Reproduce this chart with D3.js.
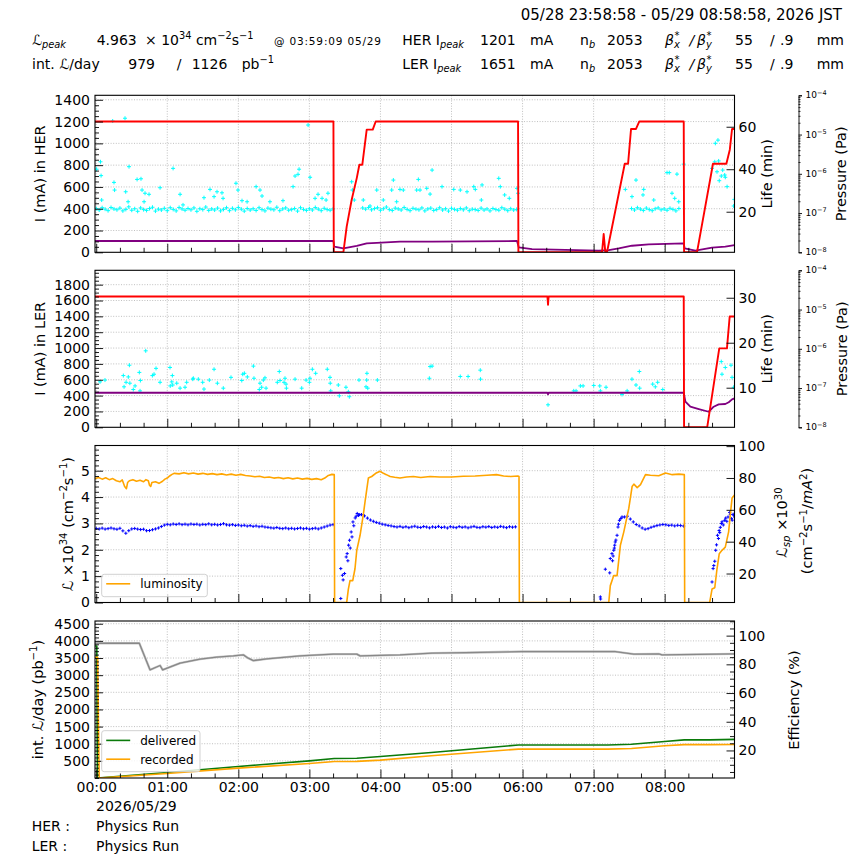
<!DOCTYPE html>
<html><head><meta charset="utf-8"><title>SuperKEKB status</title>
<script src="https://cdn.jsdelivr.net/npm/d3@7/dist/d3.min.js"></script>
<style>
html,body{margin:0;padding:0;background:#fff;}
svg text{font-family:"DejaVu Sans","Liberation Sans",sans-serif;fill:#000;}
</style></head><body>
<svg id="chart" width="864" height="864" viewBox="0 0 864 864"></svg>
<script>
// ---------------- DATA (time in minutes after 2026/05/29 00:00 JST) ----------------
const hourTicks = ["00:00","01:00","02:00","03:00","04:00","05:00","06:00","07:00","08:00"];
const herTicks = [0,200,400,600,800,1000,1200,1400];
const lerTicks = [0,200,400,600,800,1000,1200,1400,1600,1800];
const lumTicks = [0,1,2,3,4,5];
const intTicks = [500,1000,1500,2000,2500,3000,3500,4000,4500];
const herLifeTicks = [20,40,60];
const lerLifeTicks = [10,20,30];
const lspTicks = [20,40,60,80,100];
const effTicks = [20,40,60,80,100];
const presTicks = [1e-8,1e-7,1e-6,1e-5,1e-4];

const herCurrent = [[-1.1,1201],[200.3,1201],[200.6,0],[208.7,0],[211.5,236],[215.7,482],[220,681],[222.2,804],[224.7,804],[228.4,1126],[233.5,1126],[236,1201],[356.2,1201],[356.5,0],[427.1,0],[428.5,168],[429.9,0],[431.3,0],[446.3,813],[449.1,813],[451.6,1132],[455.8,1132],[458.6,1201],[496.1,1201],[496.4,0],[507.3,0],[520.8,813],[532.1,813],[535,942],[536.9,1132],[539,1132]];
const herPressure = [[-1.1,1.94e-8],[200.3,1.94e-8],[201,1.39e-8],[208.7,1.26e-8],[220,1.45e-8],[228.4,1.69e-8],[236.9,1.74e-8],[256.5,1.86e-8],[283.6,1.86e-8],[355.3,1.94e-8],[356.8,1.34e-8],[368,1.21e-8],[424.3,1.10e-8],[432.8,1.14e-8],[441.2,1.26e-8],[452.4,1.47e-8],[466.5,1.60e-8],[496.1,1.69e-8],[496.9,1.26e-8],[505.9,1.10e-8],[520,1.31e-8],[531.2,1.39e-8],[539,1.53e-8]];
// HER lifetime: dense band segments (start minute, 2.5 min spacing) + scattered points
const herLifeBandStart = [0, 225, 452];
const herLifeBandA = [21.5,20.8,21.9,21.2,20.5,22.0,21.3,20.9,21.7,20.4,21.1,22.3,20.7,21.4,20.2,21.8,21.0,20.6,21.5,22.1,20.3,21.2,20.8,21.6,20.5,21.9,21.1,20.4,22.0,21.3,20.7,21.5,20.9,21.8,20.2,21.4,21.0,22.2,20.6,21.3,20.8,21.7,20.4,21.1,21.9,20.5,21.6,20.9,22.0,21.2,20.3,21.5,20.8,21.4,20.6,21.9,21.0,20.4,21.7,21.2,20.9,22.1,20.5,21.3,21.8,20.7,21.0,21.5,20.3,21.9,21.1,20.6,21.4,20.8,22.0,21.2,20.5,21.6,21.0,20.7,21.3];
const herLifeBandB = [21.8,21.2,22.0,20.9,21.5,21.9,20.7,21.4,22.2,21.0,20.6,21.7,21.3,20.8,22.0,21.1,20.5,21.6,21.2,20.9,21.8,20.4,21.3,21.7,20.6,21.0,21.9,20.8,21.4,20.3,21.6,21.1,20.7,21.5,20.9,21.8,20.5,21.2,21.0,20.6,21.7,20.8,21.3,20.4,21.5,21.0,20.7,21.9,21.2,20.5,21.4,20.8,21.1];
const herLifeBandC = [21.5,20.8,21.9,21.2,20.6,21.7,21.0,20.5,21.4,21.8,20.9,21.3,20.7,21.6,21.1,20.4,21.5];
const herLifeScatter = [[0.3,40],[3.6,43.5],[4.1,37],[4.6,25.5],[13.9,62.7],[15,33.8],[15.5,30.2],[24.3,64],[24.9,29.4],[26.9,24.7],[27.7,41.2],[34.5,35.2],[37.8,35.5],[38.7,30.2],[40.4,24.7],[41.2,28.7],[44.6,28.2],[53.9,31.3],[64.9,40.4],[70.8,28.2],[73.3,23.2],[91,26.6],[96.1,30.5],[99.5,27.1],[102,29.4],[106.2,28.9],[107.1,26.3],[118,33.4],[119.7,30.2],[123.1,25.2],[127.4,24.7],[135,31.8],[138.3,30.2],[140,27.4],[146.7,24.7],[157.7,25.2],[166.2,31.8],[167.9,36.8],[170.4,37.6],[171.3,40],[178.9,60.8],[180.6,36.2],[184.8,26.3],[187.3,28.2],[190.7,26.3],[194.1,25.5],[195.7,28.7],
[215.7,34.1],[216.3,30.2],[217.9,25.5],[225.5,25.5],[231.2,22.7],[236.9,30.2],[242.4,25.5],[249.5,30.2],[250.9,34.9],[253.7,24.7],[256.5,30.5],[259.3,30.2],[270.6,30.2],[272,35.2],[273.4,30.2],[279.1,31],[281.9,28.3],[283.6,39.6],[292,31.8],[301.9,30.5],[307.4,30.2],[313.1,29.4],[318.8,31.8],[320.1,30.5],[325.2,25.5],[325.8,32.6],[339.9,35.7],[341.2,31.8],[344.9,27.9],[348.8,26.3],[355.3,31],[356.2,28.7],
[446.8,30.5],[452.4,27.1],[455.8,34.9],[461.7,27.9],[462.3,30.5],[470.8,25.5],[482,38.4],[483.9,38.4],[486.2,28.7],[488.5,26.3],[490.4,37.7],[491.9,24.7],[496.1,42.4],
[520,40.4],[522.3,43.5],[522.8,52.2],[524.2,38.8],[525,53.7],[525.6,43.9],[526.1,34.6],[527.8,36.8],[529,39.6],[530.7,37.3],[531.2,36.2],[532.7,31.8],[538.3,22.7],[538.8,25.8]];

const lerCurrent = [[-1.1,1651],[381,1651],[381.5,1546],[382,1651],[496.1,1651],[496.4,0],[515.9,0],[526.1,996],[532.6,996],[534.9,1398],[539,1398]];
const lerPressure = [[-1.1,7.6e-8],[381,7.6e-8],[381.5,6.9e-8],[382,7.6e-8],[496.1,7.6e-8],[497.5,4.49e-8],[501.7,3.35e-8],[508.8,2.92e-8],[517.2,2.49e-8],[521.4,3.35e-8],[525.6,3.85e-8],[531.2,3.92e-8],[534.1,4.34e-8],[536.9,5.16e-8],[539,5.48e-8]];
const lerLife = [[3.2,11.3],[7.4,11.7],[22.9,12.7],[23.5,10.2],[25.2,11.2],[27.1,12.4],[28,15],[28.4,11],[31.3,9.6],[32.8,10.4],[36.4,13.4],[37,9.3],[37.3,11.6],[41.8,18.2],[47.4,12.7],[48.8,13],[50.5,14.3],[53.9,11.2],[62.3,14.5],[62.5,10.4],[63.8,11.3],[64.3,12.7],[64.6,10.6],[68,11],[70.8,9.9],[75,10.1],[76.4,11.2],[81.5,11.9],[82,12.1],[86.2,11.9],[89.9,11.2],[91,9.7],[95.5,11.7],[99.5,14.1],[102.3,11],[107.3,9.9],[113.8,12.3],[122.9,11.6],[123.7,13],[125.1,13.2],[127.6,12.4],[132.7,14.8],[133.2,12.1],[137.7,9.6],[138.3,11],[139.7,10.1],[141.1,11.7],[142.5,12.2],[143.4,9.9],[152.9,11.2],[154.6,13.6],[155.2,11.6],[158.6,11.2],[159.4,12.1],[160.3,10.8],[160.6,9.9],[167.9,11.9],[173.5,9.9],[177.2,11.7],[180,11.2],[180.5,12.1],[182.5,14.1],[185.3,13.2],[195.1,14.1],[197.4,12.3],[197.6,11],[198,9.3],[204.4,10.6],[205.3,8.2],[210.9,10.1],[212.9,9.1],[213.7,8],[221.9,11.7],[227.8,10.2],[228.4,11.7],[228.6,13.2],[229.3,9.9],[237.4,11.7],[281.3,12.1],[281.9,14.7],[283.6,14.8],[307.4,12.5],[314,12.5],[324.3,13.9],[324.5,11.9],[381.5,6.2],[403.2,9.3],[405.2,9.3],[408.8,10.4],[411.1,10.4],[420.1,10.5],[425.2,10.4],[425.7,9.3],[430.5,10.1],[444,8.5],[448.3,9.3],[452.4,11.9],[455.8,10.6],[458.6,13.6],[458.9,9.9],[469.9,10.8],[472.1,10.2],[474.1,11.2],[478.4,9.6],[527.8,15.8],[528.4,13],[531.2,14.5],[536,15],[536.9,12.3],[538.3,10.1]];

const luminosity = [[-1.1,4.70],[2,4.74],[5,4.68],[8,4.73],[11,4.66],[14,4.70],[17,4.62],[20,4.58],[22,4.65],[24,4.40],[25.5,4.32],[26.5,4.55],[28,4.62],[31,4.66],[34,4.60],[37,4.64],[40,4.58],[42,4.66],[44,4.62],[45,4.45],[46,4.40],[47,4.55],[50,4.58],[53,4.52],[56,4.60],[58,4.68],[60,4.72],[62,4.80],[64,4.86],[66,4.90],[70,4.88],[74,4.92],[78,4.88],[82,4.91],[86,4.87],[90,4.90],[94,4.86],[98,4.89],[102,4.85],[106,4.88],[110,4.84],[114,4.87],[118,4.83],[122,4.86],[126,4.82],[130,4.80],[134,4.77],[138,4.79],[142,4.74],[146,4.76],[150,4.72],[154,4.74],[158,4.70],[162,4.73],[166,4.69],[170,4.72],[174,4.68],[178,4.71],[182,4.67],[186,4.70],[190,4.66],[193,4.72],[196,4.82],[199,4.86],[201,4.85],[201.3,0],[211.5,0],[212.9,0.51],[214.3,0.83],[216.6,0.83],[218.5,1.28],[220,1.98],[222.8,2.55],[225.5,3.32],[227,3.83],[229.8,4.72],[232.6,4.78],[236,4.9],[239.7,4.98],[242.5,4.9],[245,4.85],[248.2,4.78],[252,4.75],[256.5,4.72],[262,4.76],[267.8,4.78],[274,4.74],[282,4.78],[290,4.76],[300,4.76],[310,4.79],[320,4.80],[330,4.83],[338,4.85],[344,4.80],[350,4.78],[356,4.80],[357,4.78],[357.3,0],[432.8,0],[434.1,0.64],[437,1.02],[439.8,1.02],[442.6,2.17],[445.5,2.68],[449.7,3.57],[452.5,4.4],[454,4.49],[456.8,4.36],[459.6,4.47],[463.8,4.85],[468,4.83],[475,4.81],[480.7,4.91],[486.4,4.85],[492,4.87],[496.6,4.85],[496.9,0],[518,0],[520,0.51],[522.3,0.56],[524.2,1.28],[526.1,1.85],[528.4,1.98],[531.2,2.1],[534,2.68],[535.4,3.32],[536.9,3.96],[539,4.08]];
// specific luminosity: band segments (start minute, 2.5 min spacing) + scattered ramp points
const lspBandStart = [0, 224, 446];
const lspBandA = [48.3,48.0,48.5,47.9,48.2,48.6,48.1,47.8,48.4,46.8,45.3,46.9,48.0,48.3,47.9,47.6,47.8,46.9,47.0,47.5,48.0,48.6,49.5,50.4,50.9,50.6,51.1,50.8,51.2,50.7,51.0,50.6,51.1,50.8,51.0,50.5,50.9,50.7,51.2,50.6,50.9,50.5,50.8,51.3,50.6,50.4,50.7,50.2,50.5,50.0,50.3,49.8,50.1,49.6,49.9,49.4,49.7,49.2,49.0,48.7,48.5,48.9,48.4,48.2,48.6,48.1,48.4,48.0,48.3,48.6,48.1,48.4,47.9,48.2,48.5,48.0,48.6,49.2,49.8,50.4,50.7];
const lspBandB = [57.0,56.2,54.8,53.6,52.8,52.1,51.6,51.0,50.6,50.2,49.9,49.5,49.2,49.6,49.0,49.4,48.8,49.3,49.7,49.1,48.9,49.5,49.2,48.7,49.3,49.0,49.6,48.9,49.2,48.6,49.4,49.1,48.8,49.5,49.0,49.3,48.7,49.2,49.6,49.0,48.8,49.4,49.1,49.5,48.9,49.3,49.0,49.6,49.2,48.8,49.4,49.1,49.3];
const lspBandC = [55.5,56.0,54.2,52.4,50.8,49.9,48.6,47.8,48.2,49.0,49.6,50.1,50.5,50.8,50.6,50.2,50.4,49.9,50.3,50.1,49.8];
const lspScatter = [[206.5,4.3],[206.5,23.1],[207.9,18.9],[208.5,16],[209.7,20],[211.1,30.4],[211.9,32.5],[212.5,28],[213.1,37.8],[213.9,40.9],[214.5,36],[215.3,46.1],[216,43],[216.8,52.4],[217.5,50],[218.7,54.9],[219.5,56],[220.4,57.7],[221.5,56.5],[222.5,57.0],
[425.7,5.3],[425.9,4.0],[429.9,22.7],[433.6,20.4],[434.1,29.4],[435.5,32.5],[436,28],[436.5,31],[437,34.6],[437.5,36],[437.8,37.8],[438.3,39.8],[438.8,41],[439.8,44],[440.6,49.2],[441,51],[441.8,53.4],[443,54.5],[444,55.5],
[520,14.7],[520.9,23.1],[521.5,25],[522.3,27.7],[523.1,34.6],[523.8,38],[524.6,44],[525.4,42],[526,47],[526.5,45.7],[527,49],[527.9,51.4],[528.5,52.5],[529.5,50.5],[530.7,53.4],[531.5,54.8],[532.5,52.8],[533.5,55.5],[534.9,58.3],[535.5,57],[536.3,54.5],[537,53.5],[537.8,57.2],[538.5,56.6],[538.9,55.5]];

const delivered = [[-1.1,3850],[0.5,3850],[1,0],[60,160],[120,335],[180,500],[201,570],[220,575],[240,625],[283,745],[356.5,962],[432,962],[452,985],[480,1065],[496.5,1112],[518,1112],[539,1126]];
const recorded = [[-1.1,3520],[1.2,3520],[2.5,0],[60,130],[120,287],[180,421],[201,480],[220,484],[240,521],[283,647],[356.5,843],[432,843],[452,862],[480,940],[496.5,975],[518,975],[539,979]];
const efficiency = [[-1.1,94.7],[36.4,94.7],[45.4,76.2],[53.9,79.2],[56.1,76.2],[70.8,80.8],[87.7,83.6],[101.7,85],[115.8,85.9],[124.2,86.6],[128.4,84.3],[132.7,82.6],[144,83.8],[172.1,85.9],[200.2,87.1],[220,87.1],[222.8,85.9],[256.5,86.6],[283.6,87.8],[311.7,88.1],[359.5,88.9],[438.3,88.9],[453.9,87.1],[475,87.3],[477.8,86.6],[539,87.3]];

// ---------------- DRAWING ----------------
const svg = d3.select('#chart');
const X0 = 95, X1 = 734.5;
const base = new Date(2026,4,29,0,0,0).getTime();
const T = m => new Date(base + m*60000);
const x = d3.scaleTime().domain([T(-62/60), T(538 + 58/60)]).range([X0, X1]);
const H = 157;
const tops = [95.3, 270.3, 445.5, 621];
const bots = tops.map(t => t + H);

const yHer = d3.scaleLinear().domain([0, 1441.2]).range([bots[0], tops[0]]);
const yHerLife = d3.scaleLinear().domain([0.9, 74.8]).range([bots[0], tops[0]]);
const yHerP = d3.scaleLog().domain([1e-8, 1e-4]).range([bots[0], tops[0]]);
const yLer = d3.scaleLinear().domain([0, 1981.2]).range([bots[1], tops[1]]);
const yLerLife = d3.scaleLinear().domain([1.2, 36.1]).range([bots[1], tops[1]]);
const yLerP = d3.scaleLog().domain([1e-8, 1e-4]).range([bots[1], tops[1]]);
const yLum = d3.scaleLinear().domain([0, 5.956]).range([bots[2], tops[2]]);
const yLsp = d3.scaleLinear().domain([1.8, 100.4]).range([bots[2], tops[2]]);
const yInt = d3.scaleLinear().domain([0, 4580]).range([bots[3], tops[3]]);
const yEff = d3.scaleLinear().domain([0.8, 110.2]).range([bots[3], tops[3]]);

const band = (start, vals) => vals.map((v, i) => [start + i*2.5, v]);
const herLifeAll = [].concat(band(herLifeBandStart[0], herLifeBandA), band(herLifeBandStart[1], herLifeBandB), band(herLifeBandStart[2], herLifeBandC), herLifeScatter);
const lspAll = [].concat(band(lspBandStart[0], lspBandA), band(lspBandStart[1], lspBandB), band(lspBandStart[2], lspBandC), lspScatter);

const hours = d3.timeHour.every(1).range(T(0), T(540));
const minor20 = d3.timeMinute.every(20).range(T(-1), T(539)).filter(d => d.getMinutes() !== 0);

const defs = svg.append('defs');
tops.forEach((t, i) => {
  defs.append('clipPath').attr('id', 'clip' + i).append('rect')
    .attr('x', X0).attr('y', t).attr('width', X1 - X0).attr('height', H);
});

function grid(i, yScale, vals) {
  const g = svg.append('g').attr('stroke', '#b0b0b0').attr('stroke-width', 0.8).attr('stroke-dasharray', '1,1.6');
  g.selectAll('.v').data(hours).enter().append('line')
    .attr('x1', d => x(d)).attr('x2', d => x(d)).attr('y1', tops[i]).attr('y2', bots[i]);
  g.selectAll('.h').data(vals.filter(v => yScale(v) < bots[i] - 1 && yScale(v) > tops[i] + 1)).enter().append('line')
    .attr('x1', X0).attr('x2', X1).attr('y1', d => yScale(d)).attr('y2', d => yScale(d));
}

function styleAxis(g, fs) {
  g.attr('font-size', fs).attr('font-family', null);
  g.select('.domain').remove();
  g.selectAll('.tick line').attr('stroke', '#000').attr('stroke-width', 0.9);
}

function leftAxis(i, yScale, majors, minorStep) {
  const g = svg.append('g').attr('transform', `translate(${X0},0)`);
  g.call(d3.axisLeft(yScale).tickValues(majors).tickSize(-8).tickPadding(5).tickFormat(d3.format('d')));
  styleAxis(g, 14);
  const dom = yScale.domain();
  const mins = d3.range(0, dom[1], minorStep).filter(v => !majors.some(m => Math.abs(m - v) < 1e-9));
  const gm = svg.append('g').attr('transform', `translate(${X0},0)`);
  gm.call(d3.axisLeft(yScale).tickValues(mins).tickSize(-4).tickFormat(() => ''));
  styleAxis(gm, 14);
}

function rightAxis(i, yScale, majors, minors) {
  const g = svg.append('g').attr('transform', `translate(${X1},0)`);
  g.call(d3.axisRight(yScale).tickValues(majors).tickSize(-8).tickPadding(4).tickFormat(d3.format('d')));
  styleAxis(g, 14);
  if (minors) {
    const gm = svg.append('g').attr('transform', `translate(${X1},0)`);
    gm.call(d3.axisRight(yScale).tickValues(minors).tickSize(-4.5).tickFormat(() => ''));
    styleAxis(gm, 14);
  }
}

function bottomAxis(i, labels) {
  const g = svg.append('g').attr('transform', `translate(0,${bots[i]})`);
  g.call(d3.axisBottom(x).tickValues(hours).tickSize(-8.5).tickPadding(4)
    .tickFormat(labels ? ((d, k) => hourTicks[k]) : () => ''));
  styleAxis(g, 14);
  const gm = svg.append('g').attr('transform', `translate(0,${bots[i]})`);
  gm.call(d3.axisBottom(x).tickValues(minor20).tickSize(-4.5).tickFormat(() => ''));
  styleAxis(gm, 14);
}

function rich(sel, parts, fs) {
  let cur = 0;
  parts.forEach(p => {
    const s = typeof p === 'string' ? p : p[0];
    const k = typeof p === 'string' ? '' : p[1];
    let off = 0, size = fs;
    if (k.includes('^')) { off = -0.38 * fs; size = 0.7 * fs; }
    if (k.includes('_')) { off = 0.24 * fs; size = 0.7 * fs; }
    const t = sel.append('tspan').text(s).attr('font-size', size);
    if (off - cur !== 0) t.attr('dy', off - cur);
    if (k.includes('i')) t.attr('font-style', 'italic');
    cur = off;
  });
  return sel;
}

function txt(xp, yp, s, fs, opts) {
  const t = svg.append('text').attr('x', xp).attr('y', yp).attr('font-size', fs);
  if (opts && opts.anchor) t.attr('text-anchor', opts.anchor);
  if (opts && opts.italic) t.attr('font-style', 'italic');
  if (Array.isArray(s)) rich(t, s, fs); else t.text(s);
  return t;
}

function vlabel(xb, yc, parts, fs) {
  const t = svg.append('text').attr('transform', `translate(${xb},${yc}) rotate(-90)`)
    .attr('text-anchor', 'middle').attr('font-size', fs);
  rich(t, parts, fs);
}

function presAxis(i, yScale) {
  const g = svg.append('g').attr('transform', 'translate(798.5,0)');
  g.call(d3.axisRight(yScale).tickValues(presTicks).tickSize(3.5).tickSizeOuter(3.5).tickFormat(() => ''));
  g.select('.domain').attr('stroke', '#000').attr('stroke-width', 0.9);
  g.selectAll('.tick line').attr('stroke', '#000').attr('stroke-width', 0.9);
  const mins = [];
  [-8, -7, -6, -5].forEach(e => { for (let m = 2; m <= 9; m++) mins.push(m * Math.pow(10, e)); });
  const gm = svg.append('g').attr('transform', 'translate(798.5,0)');
  gm.call(d3.axisRight(yScale).tickValues(mins).tickSize(2).tickFormat(() => ''));
  gm.select('.domain').remove();
  gm.selectAll('.tick line').attr('stroke', '#000').attr('stroke-width', 0.8);
  presTicks.forEach(v => {
    const t = svg.append('text').attr('x', 805.5).attr('y', yScale(v) + 3).attr('font-size', 9);
    t.append('tspan').text('10');
    t.append('tspan').text('\u2212' + Math.round(-Math.log10(v))).attr('font-size', 6.5).attr('dy', -3.8);
  });
}

function lineMark(i, data, yScale, color, w) {
  svg.append('path').datum(data).attr('clip-path', `url(#clip${i})`)
    .attr('fill', 'none').attr('stroke', color).attr('stroke-width', w).attr('stroke-linejoin', 'round')
    .attr('d', d3.line().x(d => x(T(d[0]))).y(d => yScale(d[1])));
}

function plusMarks(i, data, yScale, color, r, w) {
  svg.append('path').attr('clip-path', `url(#clip${i})`).attr('fill', 'none')
    .attr('stroke', color).attr('stroke-width', w)
    .attr('d', data.map(d => {
      const px = x(T(d[0])), py = yScale(d[1]);
      return `M${(px - r).toFixed(2)},${py.toFixed(2)}h${2 * r}M${px.toFixed(2)},${(py - r).toFixed(2)}v${2 * r}`;
    }).join(''));
}

// grids
grid(0, yHer, herTicks);
grid(1, yLer, lerTicks);
grid(2, yLum, lumTicks);
grid(3, yInt, intTicks);

// Panel 1: HER
plusMarks(0, herLifeAll, yHerLife, '#00ffff', 2, 1);
lineMark(0, herPressure, yHerP, '#800080', 1.8);
lineMark(0, herCurrent, yHer, '#ff0000', 1.9);
// Panel 2: LER
plusMarks(1, lerLife, yLerLife, '#00ffff', 2, 1);
lineMark(1, lerPressure, yLerP, '#800080', 1.8);
lineMark(1, lerCurrent, yLer, '#ff0000', 1.9);
// Panel 3: luminosity
plusMarks(2, lspAll, yLsp, '#0000ff', 1.6, 1);
lineMark(2, luminosity, yLum, '#ffa500', 1.6);
// Panel 4: integrated
lineMark(3, efficiency, yEff, '#c8c8c8', 2.4);
lineMark(3, efficiency, yEff, '#888888', 1.3);
lineMark(3, delivered, yInt, '#0a7a0a', 1.6);
lineMark(3, recorded, yInt, '#ffa500', 1.6);

// axes
leftAxis(0, yHer, herTicks, 50);
leftAxis(1, yLer, lerTicks, 50);
leftAxis(2, yLum, lumTicks, 0.2);
leftAxis(3, yInt, intTicks, 100);
rightAxis(0, yHerLife, herLifeTicks);
rightAxis(1, yLerLife, lerLifeTicks);
rightAxis(2, yLsp, lspTicks);
rightAxis(3, yEff, effTicks, d3.range(5, 111, 5).filter(v => v % 20 !== 0));
[0, 1, 2, 3].forEach(i => bottomAxis(i, i === 3));
presAxis(0, yHerP);
presAxis(1, yLerP);

// frames
tops.forEach(t => svg.append('rect').attr('x', X0).attr('y', t).attr('width', X1 - X0).attr('height', H)
  .attr('fill', 'none').attr('stroke', '#000').attr('stroke-width', 1.1));

// legends
function legend(bx, by, bw, bh, items) {
  svg.append('rect').attr('x', bx).attr('y', by).attr('width', bw).attr('height', bh).attr('rx', 2.5)
    .attr('fill', '#fff').attr('fill-opacity', 0.8).attr('stroke', '#cccccc').attr('stroke-width', 0.9);
  items.forEach(it => {
    svg.append('line').attr('x1', bx + 4.5).attr('x2', bx + 28.5).attr('y1', it.y).attr('y2', it.y)
      .attr('stroke', it.color).attr('stroke-width', 1.6);
    txt(bx + 38.5, it.y + 4.5, it.label, 12);
  });
}
legend(101.7, 574.3, 105.6, 22.4, [{ y: 583.8, color: '#ffa500', label: 'luminosity' }]);
legend(101.7, 730.7, 98.3, 41, [{ y: 740.4, color: '#0a7a0a', label: 'delivered' }, { y: 759.2, color: '#ffa500', label: 'recorded' }]);

// axis labels
vlabel(44.8, 173.8, ['I (mA) in HER'], 14.5);
vlabel(44.8, 348.8, ['I (mA) in LER'], 14.5);
vlabel(72.5, 524, ['\u2112 \u00d710', ['34', '^'], ' (cm', ['\u22122', '^'], 's', ['\u22121', '^'], ')'], 14.5);
vlabel(42.5, 699.5, ['int. \u2112/day (pb', ['\u22121', '^'], ')'], 14.5);
vlabel(771.5, 173.8, ['Life (min)'], 14.5);
vlabel(771.5, 348.8, ['Life (min)'], 14.5);
vlabel(845.5, 173.8, ['Pressure (Pa)'], 14.5);
vlabel(846.5, 348.8, ['Pressure (Pa)'], 14.5);
vlabel(787, 522.5, ['\u2112', ['sp', '_i'], ' \u00d710', ['30', '^']], 14.5);
vlabel(812, 521, ['(cm', ['\u22122', '^'], 's', ['\u22121', '^'], '/', ['mA', 'i'], ['2', '^'], ')'], 14.5);
vlabel(798.5, 700, ['Efficiency (%)'], 14.5);

// header
txt(842, 20, '05/28 23:58:58 - 05/29 08:58:58, 2026 JST', 15, { anchor: 'end' });
const r1 = 44.5, r2 = 68.5;
txt(32, r1, ['\u2112', ['peak', '_i']], 14);
txt(96.7, r1, '4.963', 14);
txt(145, r1, ['\u00d7 10', ['34', '^'], ' cm', ['\u22122', '^'], 's', ['\u22121', '^']], 14);
txt(274, r1, '@ 03:59:09 05/29', 10.5).attr('textLength', 107).attr('lengthAdjust', 'spacing');
txt(32, r2, 'int. \u2112/day', 14);
txt(128.3, r2, '979', 14);
txt(176.7, r2, '/', 14);
txt(191.7, r2, '1126', 14);
txt(241.7, r2, ['pb', ['\u22121', '^']], 14);
[[r1, 'HER', '1201'], [r2, 'LER', '1651']].forEach(([yy, ring, ip]) => {
  txt(402.3, yy, [ring + ' I', ['peak', '_i']], 14);
  txt(480, yy, ip, 14);
  txt(530, yy, 'mA', 14);
  txt(580, yy, ['n', ['b', '_i']], 14);
  txt(607, yy, '2053', 14);
  txt(665, yy, '\u03b2', 14, { italic: true });
  txt(674.5, yy - 6, '*', 10);
  txt(674, yy + 3.5, 'x', 10, { italic: true });
  txt(689.5, yy, '/', 14, { italic: true });
  txt(697, yy, '\u03b2', 14, { italic: true });
  txt(706.5, yy - 6, '*', 10);
  txt(706, yy + 3.5, 'y', 10, { italic: true });
  txt(735, yy, '55', 14);
  txt(770, yy, '/', 14);
  txt(780, yy, '.9', 14);
  txt(816.7, yy, 'mm', 14);
});

// footer
txt(96, 811, '2026/05/29', 14);
txt(31.7, 830.5, 'HER :', 14);
txt(96, 830.5, 'Physics Run', 14);
txt(31.7, 850.5, 'LER :', 14);
txt(96, 850.5, 'Physics Run', 14);
</script></body></html>
